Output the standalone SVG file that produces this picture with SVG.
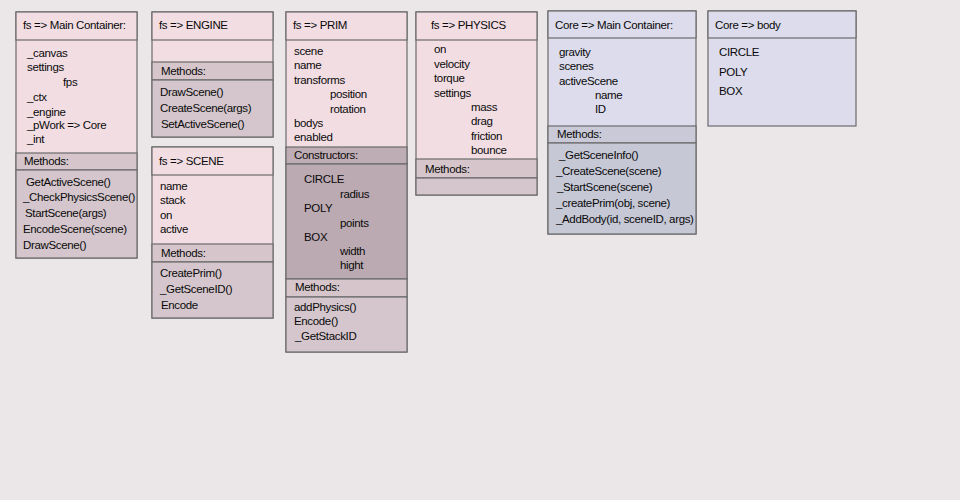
<svg xmlns="http://www.w3.org/2000/svg" width="960" height="500" viewBox="0 0 960 500">
<style>
text{font-family:"Liberation Sans",Arial,sans-serif;font-size:11.5px;fill:#0a0a0a;letter-spacing:-0.35px}
.b{stroke:#6b6b6b;stroke-width:1.2}
.pk{fill:#f2dde3}
.pm{fill:#d6c6cc}
.pb{fill:#d4c6cc}
.pc{fill:#bfadb5}
.pcb{fill:#bcaab2}
.bl{fill:#dcdcec}
.bm{fill:#c9c9d7}
.bb{fill:#c6c8d6}
</style>
<rect width="960" height="500" fill="#ebe6e8"/>
<g id="connectors"/>
<g id="fs-main">
<rect class="b pk" x="16" y="12" width="121" height="246"/>
<rect class="b pk" x="16" y="12" width="121" height="28"/>
<rect class="b pm" x="16" y="153" width="121" height="17"/>
<rect class="b pb" x="16" y="170" width="121" height="88"/>
<text x="23" y="29">fs =&gt; Main Container:</text>
<text x="27" y="57">_canvas</text>
<text x="27" y="71">settings</text>
<text x="63" y="86">fps</text>
<text x="27" y="101">_ctx</text>
<text x="27" y="116">_engine</text>
<text x="27" y="129">_pWork  =&gt; Core</text>
<text x="27" y="143">_int</text>
<text x="24" y="165">Methods:</text>
<text x="26" y="186">GetActiveScene()</text>
<text x="23" y="201">_CheckPhysicsScene()</text>
<text x="25" y="217">StartScene(args)</text>
<text x="23" y="233">EncodeScene(scene)</text>
<text x="23" y="249">DrawScene()</text>
</g>
<g id="fs-engine">
<rect class="b pk" x="152" y="12" width="121" height="125"/>
<rect class="b pk" x="152" y="12" width="121" height="28"/>
<rect class="b pm" x="152" y="62" width="121" height="18"/>
<rect class="b pb" x="152" y="80" width="121" height="57"/>
<text x="159" y="29">fs =&gt; ENGINE</text>
<text x="161" y="75">Methods:</text>
<text x="160" y="96">DrawScene()</text>
<text x="160" y="112">CreateScene(args)</text>
<text x="161" y="128">SetActiveScene()</text>
</g>
<g id="fs-scene">
<rect class="b pk" x="152" y="147" width="121" height="171"/>
<rect class="b pk" x="152" y="147" width="121" height="28"/>
<rect class="b pm" x="152" y="244" width="121" height="18"/>
<rect class="b pb" x="152" y="262" width="121" height="56"/>
<text x="159" y="165">fs =&gt; SCENE</text>
<text x="160" y="190">name</text>
<text x="160" y="204">stack</text>
<text x="160" y="219">on</text>
<text x="160" y="233">active</text>
<text x="161" y="257">Methods:</text>
<text x="160" y="277">CreatePrim()</text>
<text x="160" y="293">_GetSceneID()</text>
<text x="161" y="309">Encode</text>
</g>
<g id="fs-prim">
<rect class="b pk" x="286" y="12" width="121" height="340"/>
<rect class="b pk" x="286" y="12" width="121" height="28"/>
<rect class="b pc" x="286" y="147" width="121" height="17"/>
<rect class="b pcb" x="286" y="164" width="121" height="115"/>
<rect class="b pm" x="286" y="279" width="121" height="18"/>
<rect class="b pb" x="286" y="297" width="121" height="55"/>
<text x="293" y="29">fs =&gt; PRIM</text>
<text x="294" y="55">scene</text>
<text x="294" y="69">name</text>
<text x="294" y="84">transforms</text>
<text x="330" y="98">position</text>
<text x="330" y="113">rotation</text>
<text x="294" y="127">bodys</text>
<text x="294" y="141">enabled</text>
<text x="294" y="159">Constructors:</text>
<text x="304" y="183">CIRCLE</text>
<text x="340" y="198">radius</text>
<text x="304" y="212">POLY</text>
<text x="340" y="227">points</text>
<text x="304" y="241">BOX</text>
<text x="340" y="255">width</text>
<text x="340" y="269">hight</text>
<text x="295" y="291">Methods:</text>
<text x="294" y="311">addPhysics()</text>
<text x="294" y="325">Encode()</text>
<text x="295" y="340">_GetStackID</text>
</g>
<g id="fs-physics">
<rect class="b pk" x="416" y="12" width="121" height="183"/>
<rect class="b pk" x="416" y="12" width="121" height="28"/>
<rect class="b pm" x="416" y="159" width="121" height="19"/>
<rect class="b pb" x="416" y="178" width="121" height="17"/>
<text x="431" y="29">fs =&gt; PHYSICS</text>
<text x="434" y="53">on</text>
<text x="434" y="68">velocity</text>
<text x="434" y="82">torque</text>
<text x="434" y="97">settings</text>
<text x="471" y="111">mass</text>
<text x="471" y="125">drag</text>
<text x="471" y="140">friction</text>
<text x="471" y="154">bounce</text>
<text x="425" y="173">Methods:</text>
</g>
<g id="core-main">
<rect class="b bl" x="548" y="11" width="148" height="223"/>
<rect class="b bl" x="548" y="11" width="148" height="27"/>
<rect class="b bm" x="548" y="126" width="148" height="17"/>
<rect class="b bb" x="548" y="143" width="148" height="91"/>
<text x="555" y="29">Core =&gt; Main Container:</text>
<text x="559" y="56">gravity</text>
<text x="559" y="70">scenes</text>
<text x="559" y="85">activeScene</text>
<text x="595" y="99">name</text>
<text x="595" y="113">ID</text>
<text x="557" y="138">Methods:</text>
<text x="559" y="159">_GetSceneInfo()</text>
<text x="556" y="175">_CreateScene(scene)</text>
<text x="557" y="191">_StartScene(scene)</text>
<text x="556" y="207">_createPrim(obj, scene)</text>
<text x="556" y="223">_AddBody(id, sceneID, args)</text>
</g>
<g id="core-body">
<rect class="b bl" x="708" y="11" width="148" height="115"/>
<rect class="b bl" x="708" y="11" width="148" height="27"/>
<text x="715" y="29">Core =&gt; body</text>
<text x="719" y="56">CIRCLE</text>
<text x="719" y="76">POLY</text>
<text x="719" y="95">BOX</text>
</g>
</svg>
